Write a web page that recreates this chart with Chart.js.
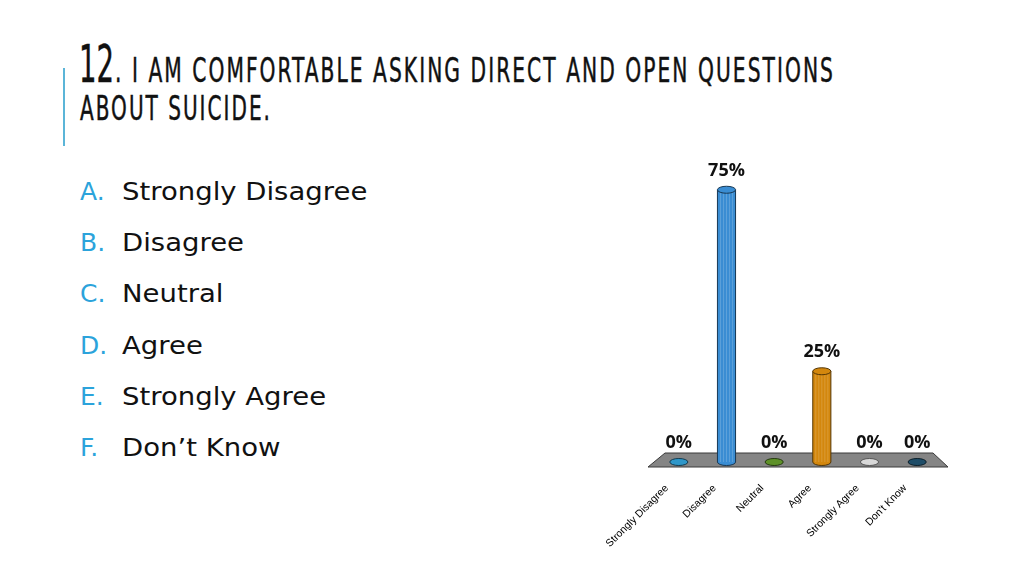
<!DOCTYPE html>
<html>
<head>
<meta charset="utf-8">
<script src="https://cdn.jsdelivr.net/npm/chart.js@4.4.1/dist/chart.umd.min.js"></script>
<style>
  html, body { margin:0; padding:0; background:#fff; width:1024px; height:576px; overflow:hidden; }
  #accent { position:absolute; left:63px; top:68px; width:2px; height:78px; background:#5BB5D8; }
  .t { position:absolute; white-space:nowrap; color:#111; font-family:"DejaVu Sans Condensed","DejaVu Sans",sans-serif; font-stretch:condensed; transform-origin:0 0; -webkit-text-stroke:0.45px #111; }
  #t12 { left:79px; top:39px; font-size:51px; line-height:51px; }
  #t1 { left:115px; top:54px; font-size:33px; line-height:33px; letter-spacing:3px; }
  #t2 { left:80px; top:92px; font-size:33px; line-height:33px; letter-spacing:3px; }
  .li { position:absolute; left:0; white-space:nowrap; font-family:"DejaVu Sans",sans-serif; font-size:25px; line-height:25px; }
  .li .l { position:absolute; left:80px; color:#2BA3DB; }
  .li .x { position:absolute; left:122px; color:#111; transform-origin:0 0; transform:scaleX(1.1); }
  #c { position:absolute; left:0; top:0; }
</style>
</head>
<body>
<div id="accent"></div>
<div class="t" id="t12">12</div>
<div class="t" id="t1">. I AM COMFORTABLE ASKING DIRECT AND OPEN QUESTIONS</div>
<div class="t" id="t2">ABOUT SUICIDE.</div>
<div id="list"></div>
<canvas id="c" width="1024" height="576"></canvas>
<script>
// ---- data ----
const listLetters = ['A.', 'B.', 'C.', 'D.', 'E.', 'F.'];
const listItems = ['Strongly Disagree', 'Disagree', 'Neutral', 'Agree', 'Strongly Agree', 'Don\u2019t Know'];
const categories = ['Strongly Disagree', 'Disagree', 'Neutral', 'Agree', 'Strongly Agree', "Don't Know"];
const percentages = [0, 75, 0, 25, 0, 0];
const barColors = ['#2F97C9', '#3A8DD3', '#5E9129', '#D3870D', '#D8D8D8', '#1F4D68'];

// ---- title fitting (horizontal squeeze to mimic the condensed face) ----
function fitWidth(id, target) {
  const el = document.getElementById(id);
  const w = el.getBoundingClientRect().width;
  el.style.transform = 'scaleX(' + (target / w) + ')';
}
fitWidth('t12', 35);
fitWidth('t1', 720);
fitWidth('t2', 192);

// ---- answer list ----
const list = document.getElementById('list');
listItems.forEach((txt, i) => {
  const row = document.createElement('div');
  row.className = 'li';
  row.style.top = (179 + i * 51.2) + 'px';
  const l = document.createElement('span'); l.className = 'l'; l.textContent = listLetters[i];
  const x = document.createElement('span'); x.className = 'x'; x.textContent = txt;
  row.appendChild(l); row.appendChild(x);
  list.appendChild(row);
});

function shade(hex, f) {
  const n = parseInt(hex.slice(1), 16);
  let r = (n >> 16) & 255, g = (n >> 8) & 255, b = n & 255;
  if (f >= 0) { r += (255 - r) * f; g += (255 - g) * f; b += (255 - b) * f; }
  else { r *= 1 + f; g *= 1 + f; b *= 1 + f; }
  return 'rgb(' + Math.round(r) + ',' + Math.round(g) + ',' + Math.round(b) + ')';
}

const cylinderPlugin = {
  id: 'cyl',
  beforeDatasetsDraw(chart) {
    const { ctx, chartArea: a } = chart;
    ctx.save();
    ctx.beginPath();
    ctx.moveTo(a.left + 10, a.bottom - 9);
    ctx.lineTo(a.right - 8, a.bottom - 9);
    ctx.lineTo(a.right + 7, a.bottom + 5);
    ctx.lineTo(a.left - 7, a.bottom + 5);
    ctx.closePath();
    ctx.fillStyle = '#858585';
    ctx.fill();
    ctx.strokeStyle = '#3a3a3a';
    ctx.lineWidth = 1;
    ctx.stroke();
    ctx.restore();
  },
  afterDatasetsDraw(chart) {
    const { ctx } = chart;
    const meta = chart.getDatasetMeta(0);
    ctx.save();
    meta.data.forEach((bar, i) => {
      const col = barColors[i];
      const rx = bar.width / 2, ry = 3.5;
      const x = bar.x, top = bar.y, base = bar.base;
      ctx.lineWidth = 1;
      ctx.strokeStyle = shade(col, -0.6);
      if (percentages[i] > 0) {
        ctx.beginPath();
        ctx.ellipse(x, base, rx, ry, 0, 0, Math.PI);
        ctx.fillStyle = col; ctx.fill(); ctx.stroke();
        ctx.save();
        ctx.strokeStyle = shade(col, 0.35);
        ctx.globalAlpha = 0.5;
        for (let k = 1; k < 6; k++) {
          const sx = x - rx + k * (bar.width / 6);
          ctx.beginPath(); ctx.moveTo(sx, top); ctx.lineTo(sx, base); ctx.stroke();
        }
        ctx.restore();
        ctx.beginPath();
        ctx.moveTo(x - rx, top); ctx.lineTo(x - rx, base);
        ctx.moveTo(x + rx, top); ctx.lineTo(x + rx, base);
        ctx.stroke();
        ctx.beginPath();
        ctx.ellipse(x, top, rx, ry, 0, 0, Math.PI * 2);
        ctx.fillStyle = col; ctx.fill(); ctx.stroke();
      } else {
        ctx.beginPath();
        ctx.ellipse(x, base, rx, ry, 0, 0, Math.PI * 2);
        ctx.fillStyle = col; ctx.fill(); ctx.stroke();
      }
      ctx.fillStyle = '#111';
      ctx.font = 'bold 18px "Open Sans", "Liberation Sans", sans-serif';
      ctx.textAlign = 'center';
      ctx.textBaseline = 'middle';
      ctx.fillText(percentages[i] + '%', x, top - 19);
    });
    ctx.restore();
  }
};

new Chart(document.getElementById('c'), {
  type: 'bar',
  data: {
    labels: categories,
    datasets: [{
      data: percentages,
      backgroundColor: barColors,
      borderWidth: 0,
      categoryPercentage: 1,
      barPercentage: 0.38
    }]
  },
  options: {
    responsive: false,
    animation: false,
    events: [],
    layout: { padding: { left: 655, right: 83, top: 99, bottom: 0 } },
    plugins: { legend: { display: false }, tooltip: { enabled: false } },
    scales: {
      y: { display: false, min: 0, max: 100 },
      x: {
        grid: { display: false, drawTicks: false },
        border: { display: false },
        afterFit(scale) { scale.height = 114; },
        ticks: {
          autoSkip: false,
          minRotation: 45,
          maxRotation: 45,
          padding: 20,
          labelOffset: -12,
          color: '#000',
          font: { family: '"Liberation Sans", Arial, sans-serif', size: 10.5 }
        }
      }
    }
  },
  plugins: [cylinderPlugin]
});
</script>
</body>
</html>
